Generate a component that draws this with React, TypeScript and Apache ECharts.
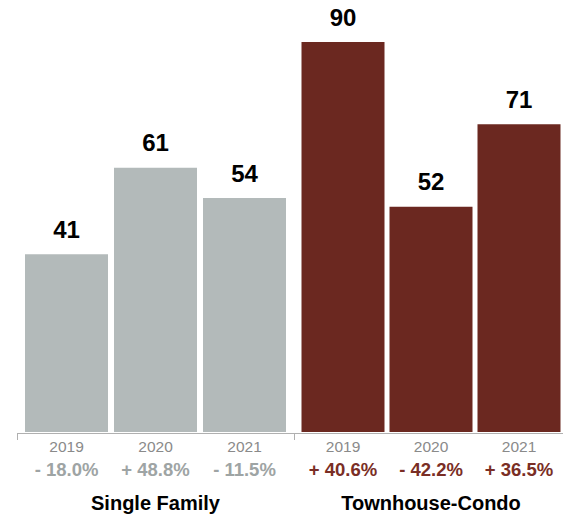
import React, { useEffect, useRef } from "react";
import * as echarts from "echarts";

const years = ["2019", "2020", "2021"];
const singleFamily = [41, 61, 54];
const townhouse = [90, 52, 71];
const singlePct = ["- 18.0%", "+ 48.8%", "- 11.5%"];
const townPct = ["+ 40.6%", "- 42.2%", "+ 36.5%"];
const groupNames = ["Single Family", "Townhouse-Condo"];

const FONT = "'Liberation Sans', Arial, Helvetica, sans-serif";
const GREY = "#b3baba";
const RED = "#6b2820";

export default function App() {
  const ref = useRef<HTMLDivElement>(null);
  useEffect(() => {
    if (!ref.current) return;
    const chart = echarts.init(ref.current, null, { renderer: "svg" });
    const yearAxis = (gi: number, name: string) => ({
      type: "category",
      gridIndex: gi,
      data: years,
      position: "bottom",
      axisLine: { show: false },
      axisTick: { show: false },
      axisLabel: { interval: 0, hideOverlap: false, margin: 6, fontSize: 15.5, color: "#8a8a8a", fontFamily: FONT },
      name,
      nameLocation: "middle",
      nameGap: 61,
      nameTextStyle: { fontSize: 20, fontWeight: "bold", color: "#000", fontFamily: FONT },
    });
    const pctAxis = (gi: number, data: string[], color: string) => ({
      type: "category",
      gridIndex: gi,
      data,
      position: "bottom",
      axisLine: { show: false },
      axisTick: { show: false },
      axisLabel: { interval: 0, hideOverlap: false, margin: 28, fontSize: 18.5, fontWeight: "bold", color, fontFamily: FONT },
    });
    const yAxis = (gi: number) => ({
      type: "value",
      gridIndex: gi,
      min: 0,
      max: 90,
      show: false,
    });
    const barLabel = {
      show: true,
      position: "top",
      distance: 13,
      fontSize: 24,
      fontWeight: "bold",
      color: "#000",
      fontFamily: FONT,
    };
    chart.setOption({
      animation: false,
      grid: [
        { left: 22, width: 267, top: 42, bottom: 85 },
        { left: 299, width: 267, top: 42, bottom: 85 },
      ],
      xAxis: [
        yearAxis(0, groupNames[0]),
        pctAxis(0, singlePct, "#9ea4a4"),
        yearAxis(1, groupNames[1]),
        pctAxis(1, townPct, "#7a2e25"),
      ],
      yAxis: [yAxis(0), yAxis(1)],
      series: [
        {
          type: "bar",
          xAxisIndex: 0,
          yAxisIndex: 0,
          data: singleFamily,
          barWidth: 83,
          itemStyle: { color: GREY },
          label: barLabel,
        },
        {
          type: "bar",
          xAxisIndex: 2,
          yAxisIndex: 1,
          data: townhouse,
          barWidth: 83,
          itemStyle: { color: RED },
          label: barLabel,
        },
      ],
      graphic: [
        {
          type: "line",
          shape: { x1: 17, y1: 433.5, x2: 563, y2: 433.5 },
          style: { stroke: "#b0b0b0", lineWidth: 1 },
        },
        {
          type: "line",
          shape: { x1: 17.5, y1: 433, x2: 17.5, y2: 440 },
          style: { stroke: "#b0b0b0", lineWidth: 1 },
        },
        {
          type: "line",
          shape: { x1: 294.5, y1: 433, x2: 294.5, y2: 440 },
          style: { stroke: "#b0b0b0", lineWidth: 1 },
        },
      ],
    });
    return () => chart.dispose();
  }, []);
  return (
    <div
      ref={ref}
      style={{ position: "fixed", left: 0, top: 0, width: 563, height: 518, background: "#fff" }}
    />
  );
}
